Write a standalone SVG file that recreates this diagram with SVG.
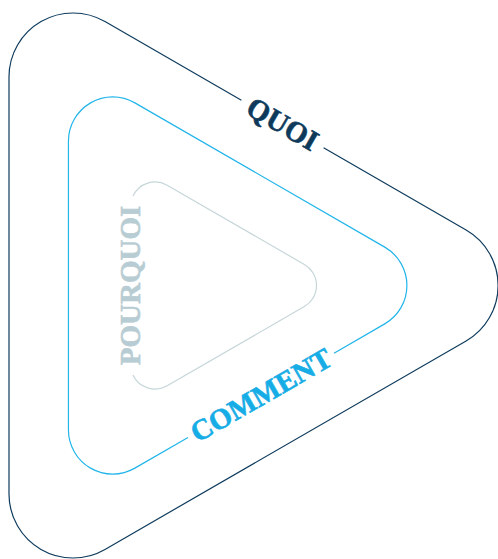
<svg xmlns="http://www.w3.org/2000/svg" width="498" height="559" viewBox="0 0 498 559">
  <style>
    .edge { fill: none; stroke-width: 1.2; stroke-linecap: butt; }
    .lbl { font-family: "Liberation Serif", "Times New Roman", serif; font-weight: bold; font-size: 29px; text-anchor: middle; stroke-width: 0.6; stroke-linejoin: round; }
    .quoi { stroke: #0e3b5d; }
    .quoi-t { fill: #0d3a5b; stroke: #0d3a5b; }
    .comment { stroke: #22b5ea; }
    .comment-t { fill: #16ade6; stroke: #16ade6; }
    .pourquoi { stroke: #c6d6d9; }
    .pourquoi-t { fill: #b8cdd3; stroke: #b8cdd3; }
  </style>
  <rect width="498" height="559" fill="#ffffff"/>
  <g id="quoi">
    <path class="edge quoi" d="M 323.6 147.8 L 466.1 230.07 A 64 64 0 0 1 466.1 340.93 L 105 549.43 A 64 64 0 0 1 9 494 L 9 77 A 64 64 0 0 1 105 21.57 L 241.4 100.3"/>
    <text class="lbl quoi-t" transform="translate(282.5 124.05) rotate(30)" y="9.6">QUOI</text>
  </g>
  <g id="comment">
    <path class="edge comment" d="M 334 353.17 L 384.75 323.86 A 44.29 44.29 0 0 0 384.75 247.14 L 134.88 102.86 A 44.29 44.29 0 0 0 68.44 141.22 L 68.44 429.78 A 44.29 44.29 0 0 0 134.88 468.14 L 188 437.47"/>
    <text class="lbl comment-t" transform="translate(261 395.32) rotate(-30)" y="9.6">COMMENT</text>
  </g>
  <g id="pourquoi">
    <path class="edge pourquoi" d="M 132.93 375 A 24.32 24.32 0 0 0 167.14 385.79 L 304.36 306.56 A 24.32 24.32 0 0 0 304.36 264.44 L 167.14 185.21 A 24.32 24.32 0 0 0 132.93 196"/>
    <text class="lbl pourquoi-t" transform="translate(130.66 285.5) rotate(-90)" y="9.6">POURQUOI</text>
  </g>
  <g id="connectors"></g>
</svg>
